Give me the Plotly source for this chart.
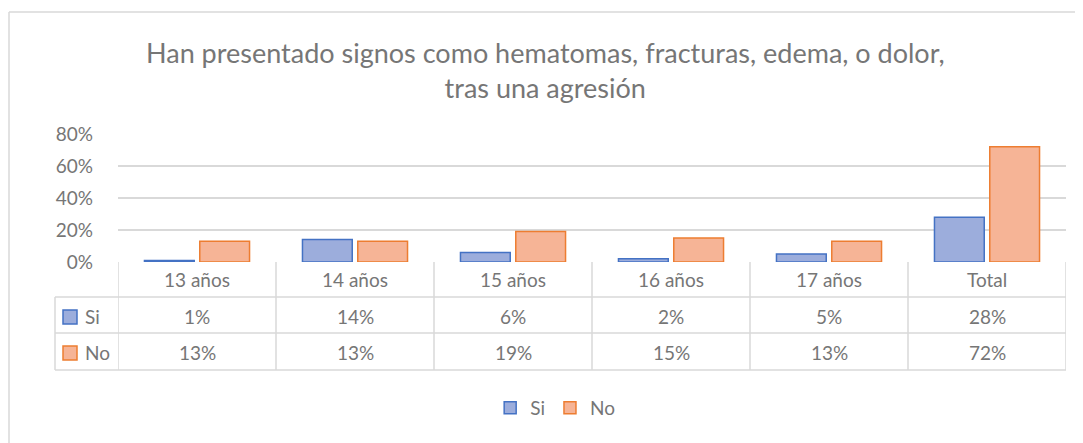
import plotly.graph_objects as go

categorias = ["13 años", "14 años", "15 años", "16 años", "17 años", "Total"]
si = [1, 14, 6, 2, 5, 28]
no = [13, 13, 19, 15, 13, 72]
ticks = [0, 20, 40, 60, 80]

# la pagina deja 8px de margen en el body
OFF = 8
W, H = 1083 - OFF, 443 - OFF
GRIS = "#767676"
LINEA = "#d9d9d9"
FUENTE = "Lato"
AZUL, AZUL_BORDE = "#9cadDC", "#4472c4"
NARANJA, NARANJA_BORDE = "#f6b496", "#ed7d31"


def px(x):
    return (x - OFF) / W


def py(y):
    return 1 - (y - OFF) / H


fig = go.Figure()
fig.add_trace(go.Bar(x=categorias, y=[v / 100 for v in si], name="Si",
                     marker=dict(color=AZUL, line=dict(color=AZUL_BORDE, width=1.5))))
fig.add_trace(go.Bar(x=categorias, y=[v / 100 for v in no], name="No",
                     marker=dict(color=NARANJA, line=dict(color=NARANJA_BORDE, width=1.5))))

shapes = []
# marco del grafico
shapes.append(dict(type="line", xref="paper", yref="paper", x0=px(9), x1=1.01,
                   y0=py(12), y1=py(12), line=dict(color=LINEA, width=1.5)))
shapes.append(dict(type="line", xref="paper", yref="paper", x0=px(9), x1=px(9),
                   y0=py(12), y1=-0.01, line=dict(color=LINEA, width=1.5)))

# tabla de datos
n = len(categorias)
for i in range(n + 1):
    shapes.append(dict(type="line", xref="x", yref="paper", x0=i - 0.5, x1=i - 0.5,
                       y0=py(262), y1=py(370), line=dict(color=LINEA, width=1.5)))
shapes.append(dict(type="line", xref="paper", yref="paper", x0=px(55), x1=px(55),
                   y0=py(297), y1=py(370), line=dict(color=LINEA, width=1.5)))
for yy in (297, 333, 370):
    shapes.append(dict(type="line", xref="paper", yref="paper",
                       x0=px(55), x1=px(1066), y0=py(yy), y1=py(yy),
                       line=dict(color=LINEA, width=1.5)))

texto = dict(family=FUENTE, size=19, color=GRIS)
annotations = []
filas = [("Si", si, 316, AZUL, AZUL_BORDE), ("No", no, 352, NARANJA, NARANJA_BORDE)]
for nombre, vals, yc, relleno, borde in filas:
    shapes.append(dict(type="rect", xref="paper", yref="paper", x0=px(63), x1=px(77),
                       y0=py(yc + 8), y1=py(yc - 6), fillcolor=relleno,
                       line=dict(color=borde, width=1.5)))
    annotations.append(dict(x=px(83), y=py(yc), xref="paper", yref="paper", text=nombre,
                            showarrow=False, xanchor="left", yanchor="middle", font=texto))
    for c, v in zip(categorias, vals):
        annotations.append(dict(x=c, y=py(yc), xref="x", yref="paper", text=f"{v}%",
                                showarrow=False, xanchor="center", yanchor="middle",
                                font=texto))
for c in categorias:
    annotations.append(dict(x=c, y=py(279), xref="x", yref="paper", text=c,
                            showarrow=False, xanchor="center", yanchor="middle", font=texto))

annotations.append(dict(x=px(545), y=py(70), xref="paper", yref="paper",
                        text="Han presentado signos como hematomas, fracturas, edema, o dolor,<br>tras una agresión",
                        showarrow=False, xanchor="center", yanchor="middle",
                        font=dict(family=FUENTE, size=27, color=GRIS)))

fig.update_layout(
    width=W, height=H,
    margin=dict(l=0, r=0, t=0, b=0, autoexpand=False),
    paper_bgcolor="white", plot_bgcolor="white",
    barmode="group", bargap=0.3, bargroupgap=0.1,
    font=texto,
    xaxis=dict(domain=[px(118), px(1066)], showticklabels=False, showline=False,
               showgrid=False, zeroline=False, range=[-0.5, n - 0.5], automargin=False),
    yaxis=dict(domain=[py(262), py(134)], range=[0, 0.8], tickvals=[t / 100 for t in ticks],
               ticktext=[f"{t}%" for t in ticks], gridcolor=LINEA, gridwidth=1.5,
               zeroline=False, showline=False, ticks="", ticklabelstandoff=24,
               automargin=False, tickfont=texto),
    legend=dict(orientation="h", x=0.509, xanchor="center", y=py(408), yanchor="middle",
                font=texto, itemwidth=30),
    shapes=shapes,
    annotations=annotations,
)

fig.write_html("out.html")
